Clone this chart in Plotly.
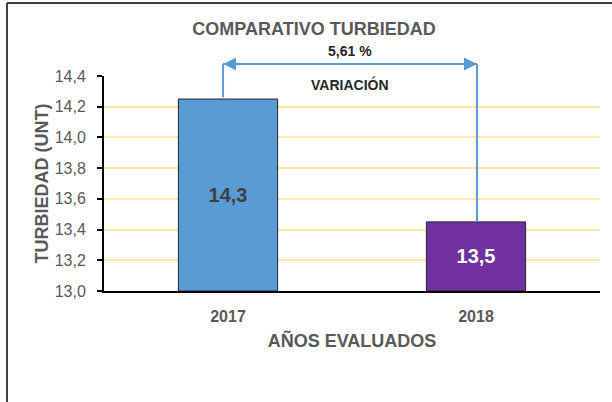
import plotly.graph_objects as go

# ---- data ----
years = ["2017", "2018"]
turbidity = [14.25, 13.45]
bar_labels = ["14,3", "13,5"]
variation_label = "5,61 %"
variation_caption = "VARIACIÓN"
y_ticks = [13.0, 13.2, 13.4, 13.6, 13.8, 14.0, 14.2, 14.4]
y_ticktext = ["13,0", "13,2", "13,4", "13,6", "13,8", "14,0", "14,2", "14,4"]

# ---- styling ----
FONT = "Liberation Sans, Arial, sans-serif"
GRAY = "#595959"
BAR_COLORS = ["#5B9BD5", "#7030A0"]
LABEL_COLORS = ["#404040", "#FFFFFF"]
ARROW = "#5B9BD5"
YMIN, YMAX = 13.0, 14.4

fig = go.Figure()
# bars are drawn from the axis minimum (as in the original chart) up to each value
fig.add_trace(go.Bar(
    x=years, y=[v - YMIN for v in turbidity], base=[YMIN] * len(turbidity),
    marker=dict(color=BAR_COLORS, line=dict(color="#262626", width=1)),
    text=bar_labels, textposition="inside", insidetextanchor="middle",
    textfont=dict(family=FONT, size=20, color=LABEL_COLORS, weight="bold"),
    hoverinfo="skip",
))

def xp(cat_index):
    # category position -> paper x (categories span -0.5 .. 1.5)
    return (cat_index + 0.5) / len(years)

def yp(value):
    return (value - YMIN) / (YMAX - YMIN)

top = 1.056
left_x = xp(0 - 0.02)
right_x = xp(1 + 0.004)

shapes = [
    dict(type="line", xref="paper", yref="paper", x0=left_x, x1=left_x,
         y0=yp(turbidity[0]) + 0.008, y1=top, line=dict(color=ARROW, width=2)),
    dict(type="line", xref="paper", yref="paper", x0=right_x, x1=right_x,
         y0=yp(turbidity[1]), y1=top, line=dict(color=ARROW, width=2)),
    dict(type="line", xref="paper", yref="paper", x0=left_x, x1=right_x,
         y0=top, y1=top, line=dict(color=ARROW, width=2)),
    # chart-area border (left and top)
    dict(type="line", xref="paper", yref="paper", x0=-97 / 496, x1=-97 / 496,
         y0=(291 - 402) / 215, y1=(291 - 3) / 215, line=dict(color="#404040", width=2)),
    dict(type="line", xref="paper", yref="paper", x0=-97 / 496, x1=508 / 496,
         y0=(291 - 3) / 215, y1=(291 - 3) / 215, line=dict(color="#404040", width=2)),
]

annotations = [
    dict(xref="paper", yref="paper", x=left_x, y=top, ax=12, ay=0, text="",
         showarrow=True, arrowhead=2, arrowsize=1.3, arrowwidth=2, arrowcolor=ARROW, standoff=0),
    dict(xref="paper", yref="paper", x=right_x, y=top, ax=-12, ay=0, text="",
         showarrow=True, arrowhead=2, arrowsize=1.3, arrowwidth=2, arrowcolor=ARROW, standoff=0),
    dict(xref="paper", yref="paper", x=(left_x + right_x) / 2, y=top, yanchor="bottom", yshift=3,
         text=variation_label, showarrow=False,
         font=dict(family=FONT, size=14, color="#262626", weight="bold")),
    dict(xref="paper", yref="paper", x=(left_x + right_x) / 2, y=(291 - 84) / 215, yanchor="middle",
         text=variation_caption, showarrow=False,
         font=dict(family=FONT, size=14, color="#262626", weight="bold")),
]

fig.update_layout(
    template="none",
    width=612, height=402,
    margin=dict(l=104, r=12, t=76, b=111),
    paper_bgcolor="white", plot_bgcolor="white",
    showlegend=False,
    title=dict(text="COMPARATIVO TURBIEDAD", x=314 / 612, xanchor="center",
               y=1 - 29 / 402, yanchor="middle", yref="container",
               font=dict(family=FONT, size=18, color=GRAY, weight="bold")),
    bargap=0.6,
    xaxis=dict(
        type="category",
        showline=True, linecolor="black", linewidth=2, showgrid=False,
        ticks="", ticklabelstandoff=10,
        tickfont=dict(family=FONT, size=16, color=GRAY, weight="bold"),
        title=dict(text="AÑOS EVALUADOS", standoff=10,
                   font=dict(family=FONT, size=18, color=GRAY, weight="bold")),
        zeroline=False,
    ),
    yaxis=dict(
        range=[YMIN, YMAX], tickvals=y_ticks, ticktext=y_ticktext,
        showline=True, linecolor="black", linewidth=2,
        ticks="outside", ticklen=5, tickwidth=2, tickcolor="black",
        ticklabelstandoff=8,
        showgrid=True, gridcolor="#FFE8A3", gridwidth=2,
        tickfont=dict(family=FONT, size=16, color=GRAY),
        title=dict(text="TURBIEDAD (UNT)", standoff=1,
                   font=dict(family=FONT, size=18, color=GRAY, weight="bold")),
        zeroline=False,
    ),
    shapes=shapes,
    annotations=annotations,
)

fig.write_html("out.html", config={"displayModeBar": False},
               post_script="document.body.style.margin='0';")
